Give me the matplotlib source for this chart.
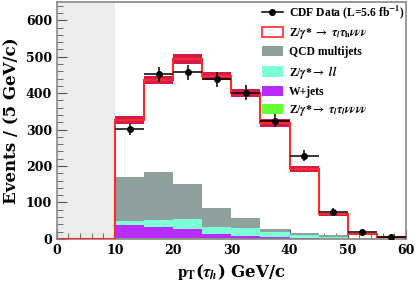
import numpy as np
import matplotlib.pyplot as plt
from matplotlib.patches import Patch
from matplotlib.lines import Line2D
from matplotlib.ticker import MultipleLocator

# bins in pT (GeV/c)
edges = [10, 15, 20, 25, 30, 35, 40, 45, 50, 55, 60]
centers = [12.5, 17.5, 22.5, 27.5, 32.5, 37.5, 42.5, 47.5, 52.5, 57.5]

data = [301, 452, 457, 438, 401, 324, 228, 75, 18, 6]
data_err = [17, 21, 21, 21, 20, 18, 15, 9, 4, 2.5]

# stacked backgrounds (individual contributions)
ztautau_ll = [2, 2, 2, 2, 1, 1, 1, 0.5, 0.3, 0.1]
wjets = [35, 30, 25, 12, 8, 4, 1.5, 0.5, 0.3, 0.1]
zll = [12, 20, 27, 20, 20, 15, 9, 5, 1, 0.3]
qcd = [121, 132, 97, 51, 29, 7, 4.5, 5, 0.5, 0.3]
total = [326, 436, 494, 447, 400, 318, 192, 68, 14, 5]
total_err = [12, 12, 14, 12, 11, 10, 8, 4, 1.5, 1]

c_qcd = '#8fa09d'
c_zll = '#7dffd8'
c_w = '#b92cff'
c_ztt = '#66ff33'
c_sig = '#ff2a2a'
c_band = '#d31c4c'

plt.rcParams['font.family'] = 'DejaVu Serif'
plt.rcParams['font.weight'] = 'bold'
plt.rcParams['mathtext.fontset'] = 'stix'

fig = plt.figure(figsize=(4.15, 2.91), dpi=100)
ax = fig.add_axes([0.137, 0.179, 0.841, 0.814])

ax.axvspan(0, 10, color='#ececec', zorder=0, lw=0)

bottom = np.zeros(len(centers))
for vals, col in [(ztautau_ll, c_ztt), (wjets, c_w), (zll, c_zll), (qcd, c_qcd)]:
    ax.bar(centers, vals, width=5, bottom=bottom, color=col, lw=0, zorder=2)
    bottom = bottom + np.array(vals)

tot = np.array(total)
terr = np.array(total_err)
ax.bar(centers, 2 * terr, width=5, bottom=tot - terr, color=c_band, lw=0, zorder=3)
ax.stairs([0] + total, [0] + edges, color=c_sig, lw=1.5, zorder=4)

ax.errorbar(centers, data, yerr=data_err, xerr=2.5, fmt='o', color='black',
            ms=4, elinewidth=1.1, capsize=0, zorder=5)

ax.set_xlim(0, 60)
ax.set_ylim(0, 650)
ax.xaxis.set_major_locator(MultipleLocator(10))
ax.xaxis.set_minor_locator(MultipleLocator(2))
ax.yaxis.set_major_locator(MultipleLocator(100))
ax.yaxis.set_minor_locator(MultipleLocator(20))
ax.tick_params(which='both', direction='in', labelsize=9, color='#555555')
ax.tick_params(which='major', length=7)
ax.tick_params(which='minor', length=4)
for s in ax.spines.values():
    s.set_color('#888888')
    s.set_linewidth(1.2)

ax.set_ylabel('Events / (5 GeV/c)', fontsize=12, fontweight='bold', labelpad=4)
ax.set_xlabel(r'$\mathbf{p_T}$($\tau_{\mathit{h}}$) GeV/c', fontsize=12, fontweight='bold')

handles = [
    Line2D([], [], color='black', marker='o', ms=4, lw=1.1),
    Patch(facecolor='white', edgecolor=c_sig, lw=1.2),
    Patch(facecolor=c_qcd),
    Patch(facecolor=c_zll),
    Patch(facecolor=c_w),
    Patch(facecolor=c_ztt),
]
labels = [
    r'CDF Data (L=5.6 fb$^{\mathbf{-1}}$)',
    r'Z/$\gamma$* $\rightarrow$ $\tau_l\tau_{\mathbf{h}}\nu\nu\nu$',
    'QCD multijets',
    r'Z/$\gamma$*$\rightarrow$ $\mathbf{\mathit{ll}}$',
    'W+jets',
    r'Z/$\gamma$*$\rightarrow$ $\tau_l\tau_l\nu\nu\nu\nu$',
]
ax.legend(handles, labels, loc='upper left', bbox_to_anchor=(0.587, 0.995),
          frameon=False, borderpad=0, borderaxespad=0,
          prop={'family': 'Liberation Serif', 'weight': 'bold', 'size': 8.4},
          handlelength=1.8, handleheight=0.95, labelspacing=0.45,
          handletextpad=0.55)

fig.savefig('out.png', dpi=100)
